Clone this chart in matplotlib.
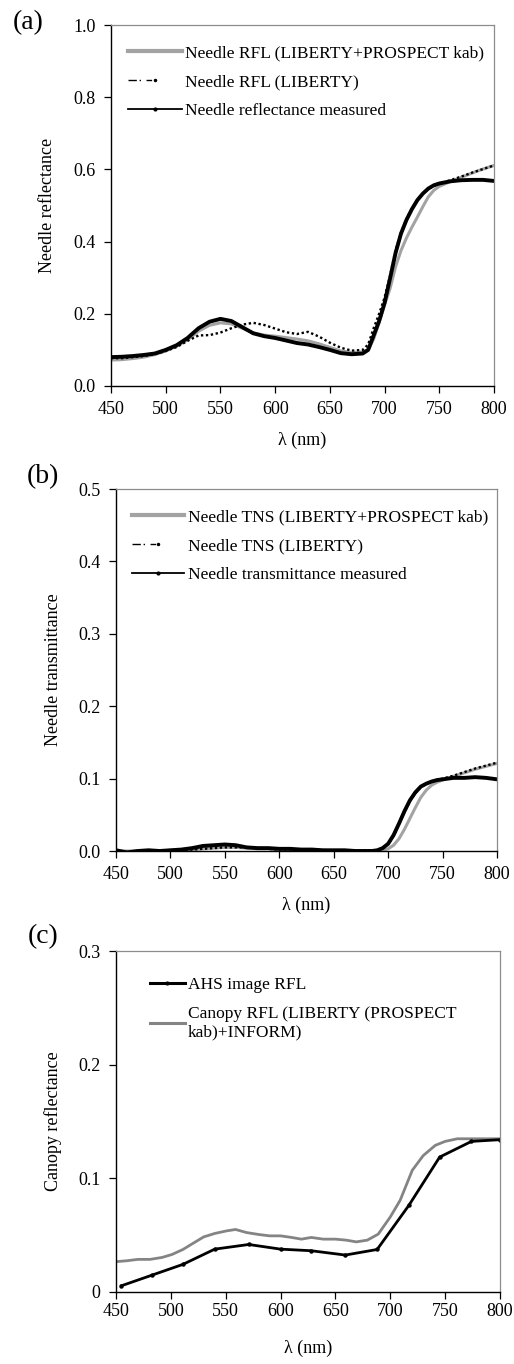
import matplotlib
matplotlib.use('Agg')
import matplotlib.pyplot as plt
from matplotlib.lines import Line2D

plt.rcParams['font.family'] = ['Liberation Serif', 'DejaVu Serif']

# (a) needle reflectance
wl_a = [450, 460, 470, 480, 490, 500, 510, 520, 530, 540, 550, 560, 570, 580, 590, 600,
        610, 620, 630, 640, 650, 660, 670, 680, 685, 690, 695, 700, 705, 710, 715, 720,
        725, 730, 735, 740, 745, 750, 760, 770, 780, 790, 800]
rfl_measured = [0.080, 0.081, 0.083, 0.086, 0.090, 0.100, 0.113, 0.133, 0.160, 0.178, 0.186,
                0.180, 0.163, 0.146, 0.138, 0.133, 0.126, 0.119, 0.115, 0.108, 0.100, 0.091,
                0.088, 0.090, 0.100, 0.140, 0.180, 0.230, 0.298, 0.368, 0.422, 0.460, 0.490,
                0.515, 0.533, 0.547, 0.556, 0.561, 0.567, 0.570, 0.571, 0.571, 0.568]
rfl_prospect = [0.072, 0.073, 0.076, 0.080, 0.087, 0.097, 0.110, 0.128, 0.152, 0.168, 0.175,
                0.172, 0.160, 0.147, 0.141, 0.138, 0.134, 0.130, 0.125, 0.117, 0.107, 0.097,
                0.093, 0.094, 0.100, 0.130, 0.175, 0.225, 0.270, 0.330, 0.375, 0.410, 0.440,
                0.468, 0.497, 0.524, 0.542, 0.553, 0.566, 0.578, 0.590, 0.601, 0.611]
rfl_liberty = [0.077, 0.077, 0.080, 0.083, 0.088, 0.097, 0.108, 0.125, 0.140, 0.141, 0.148,
               0.160, 0.170, 0.175, 0.169, 0.159, 0.149, 0.144, 0.150, 0.137, 0.120, 0.106,
               0.098, 0.100, 0.115, 0.160, 0.200, 0.245, 0.305, 0.375, 0.425, 0.462, 0.492,
               0.515, 0.533, 0.546, 0.554, 0.560, 0.570, 0.580, 0.591, 0.601, 0.611]

# (b) needle transmittance
wl_b = wl_a
tns_measured = [0.001, -0.002, 0.000, 0.001, 0.000, 0.001, 0.002, 0.004, 0.007, 0.008, 0.009,
                0.008, 0.005, 0.004, 0.004, 0.003, 0.003, 0.002, 0.002, 0.001, 0.001, 0.001,
                0.000, 0.000, 0.000, 0.001, 0.004, 0.010, 0.022, 0.038, 0.055, 0.070, 0.081,
                0.089, 0.093, 0.096, 0.098, 0.099, 0.101, 0.101, 0.102, 0.101, 0.099]
tns_prospect = [0.000, 0.000, 0.000, 0.000, 0.000, 0.001, 0.001, 0.002, 0.003, 0.004, 0.005,
                0.005, 0.004, 0.003, 0.003, 0.002, 0.002, 0.001, 0.001, 0.001, 0.000, 0.000,
                0.000, 0.000, 0.000, 0.000, 0.001, 0.003, 0.008, 0.017, 0.030, 0.045, 0.060,
                0.074, 0.084, 0.091, 0.095, 0.098, 0.103, 0.108, 0.113, 0.117, 0.121]
tns_liberty = [-0.001, -0.003, -0.002, 0.000, 0.000, 0.000, 0.001, 0.002, 0.003, 0.004, 0.005,
               0.005, 0.005, 0.004, 0.003, 0.002, 0.002, 0.002, 0.001, 0.001, 0.001, 0.001,
               0.001, 0.001, 0.001, 0.001, 0.004, 0.010, 0.021, 0.037, 0.054, 0.069, 0.080,
               0.088, 0.093, 0.096, 0.098, 0.100, 0.104, 0.109, 0.114, 0.118, 0.122]

# (c) canopy reflectance
wl_ahs = [455, 483, 511, 540, 571, 600, 628, 659, 688, 717, 745, 774, 800]
ahs_rfl = [0.0055, 0.0149, 0.0243, 0.0377, 0.0418, 0.0377, 0.0363, 0.0325, 0.0374, 0.0763,
           0.1187, 0.1325, 0.1340]
wl_canopy = [449, 460, 470, 481, 492, 501, 511, 520, 530, 540, 551, 559, 569, 580, 590, 600,
             610, 619, 628, 639, 650, 660, 669, 679, 689, 700, 709, 720, 730, 741, 750, 761,
             800]
canopy_rfl = [0.0266, 0.0275, 0.0287, 0.0287, 0.0304, 0.0330, 0.0374, 0.0427, 0.0485, 0.0515,
              0.0538, 0.0550, 0.0523, 0.0506, 0.0494, 0.0494, 0.0480, 0.0465, 0.0480, 0.0465,
              0.0465, 0.0456, 0.0441, 0.0456, 0.0509, 0.0660, 0.0807, 0.1070, 0.1200, 0.1290,
              0.1325, 0.1348, 0.1348]

W, H = 514, 1364
fig = plt.figure(figsize=(W / 100, H / 100), dpi=100)


def make_axes(left, top, right, bottom):
    ax = fig.add_axes([left / W, 1 - bottom / H, (right - left) / W, (bottom - top) / H])
    for s in ['top', 'right']:
        ax.spines[s].set_color('#8c8c8c')
        ax.spines[s].set_linewidth(0.9)
    for s in ['left', 'bottom']:
        ax.spines[s].set_color('black')
        ax.spines[s].set_linewidth(1.0)
    ax.tick_params(direction='out', length=5, width=0.9, labelsize=13, pad=6,
                   top=False, right=False)
    ax.set_xlim(450, 800)
    ax.set_xticks(range(450, 801, 50))
    return ax


gray = '#a3a3a3'
dots = (0, (1, 1.1))

# ---- panel (a)
ax = make_axes(111, 25, 494, 386)
ax.plot(wl_a, rfl_prospect, color=gray, lw=2.2)
ax.plot(wl_a, rfl_liberty, color='black', lw=1.7, ls=dots)
ax.plot(wl_a, rfl_measured, color='black', lw=2.8)
ax.set_ylim(0, 1.0)
ax.set_yticks([0, 0.2, 0.4, 0.6, 0.8, 1.0])
ax.set_yticklabels(['0.0', '0.2', '0.4', '0.6', '0.8', '1.0'])
ax.set_ylabel('Needle reflectance', fontsize=13)
ax.yaxis.set_label_coords(-55 / 383, 0.5)
ax.set_xlabel('λ (nm)', fontsize=13, labelpad=10)
handles = [Line2D([], [], color=gray, lw=3),
           Line2D([], [], color='black', lw=1, ls=(0, (6, 2, 1, 4, 4, 100)), marker='.', ms=3, markevery=[0]),
           Line2D([], [], color='black', lw=1.3, marker='o', ms=2)]
ax.legend(handles, ['Needle RFL (LIBERTY+PROSPECT kab)', 'Needle RFL (LIBERTY)',
                    'Needle reflectance measured'],
          loc='upper left', bbox_to_anchor=(0.044, 0.945), frameon=False, fontsize=12.5,
          handlelength=3.1, handletextpad=0.2, labelspacing=0.75, borderpad=0, borderaxespad=0)
fig.text(28 / W, 1 - 23 / H, '(a)', fontsize=20, ha='center', va='center')

# ---- panel (b)
ax = make_axes(116, 489, 497, 851)
ax.plot(wl_b, tns_prospect, color=gray, lw=2.2)
ax.plot(wl_b, tns_liberty, color='black', lw=1.7, ls=dots)
ax.plot(wl_b, tns_measured, color='black', lw=2.8)
ax.set_ylim(0, 0.5)
ax.set_yticks([0, 0.1, 0.2, 0.3, 0.4, 0.5])
ax.set_yticklabels(['0.0', '0.1', '0.2', '0.3', '0.4', '0.5'])
ax.set_ylabel('Needle transmittance', fontsize=13)
ax.yaxis.set_label_coords(-54 / 381, 0.5)
ax.set_xlabel('λ (nm)', fontsize=13, labelpad=10)
ax.legend(handles, ['Needle TNS (LIBERTY+PROSPECT kab)', 'Needle TNS (LIBERTY)',
                    'Needle transmittance measured'],
          loc='upper left', bbox_to_anchor=(0.042, 0.945), frameon=False, fontsize=12.5,
          handlelength=3.0, handletextpad=0.2, labelspacing=0.75, borderpad=0, borderaxespad=0)
fig.text(43 / W, 1 - 477 / H, '(b)', fontsize=20, ha='center', va='center')

# ---- panel (c)
ax = make_axes(116, 951, 500, 1292)
ax.plot(wl_canopy, canopy_rfl, color='#848484', lw=2.0)
ax.plot(wl_ahs, ahs_rfl, color='black', lw=2.0, marker='o', ms=2.2)
ax.set_ylim(0, 0.3)
ax.set_yticks([0, 0.1, 0.2, 0.3])
ax.set_yticklabels(['0', '0.1', '0.2', '0.3'])
ax.tick_params(axis='x', pad=3)
ax.set_ylabel('Canopy reflectance', fontsize=13)
ax.yaxis.set_label_coords(-54 / 384, 0.5)
ax.set_xlabel('λ (nm)', fontsize=13, labelpad=14)
handles_c = [Line2D([], [], color='black', lw=2.2, marker='o', ms=2),
             Line2D([], [], color='#848484', lw=2.2)]
ax.legend(handles_c, ['AHS image RFL', 'Canopy RFL (LIBERTY (PROSPECT\nkab)+INFORM)'],
          loc='upper left', bbox_to_anchor=(0.088, 0.925), frameon=False, fontsize=12.5,
          handlelength=2.0, handletextpad=0.2, labelspacing=0.75, borderpad=0, borderaxespad=0)
fig.text(43 / W, 1 - 937 / H, '(c)', fontsize=20, ha='center', va='center')

fig.savefig('out.png', dpi=100)
